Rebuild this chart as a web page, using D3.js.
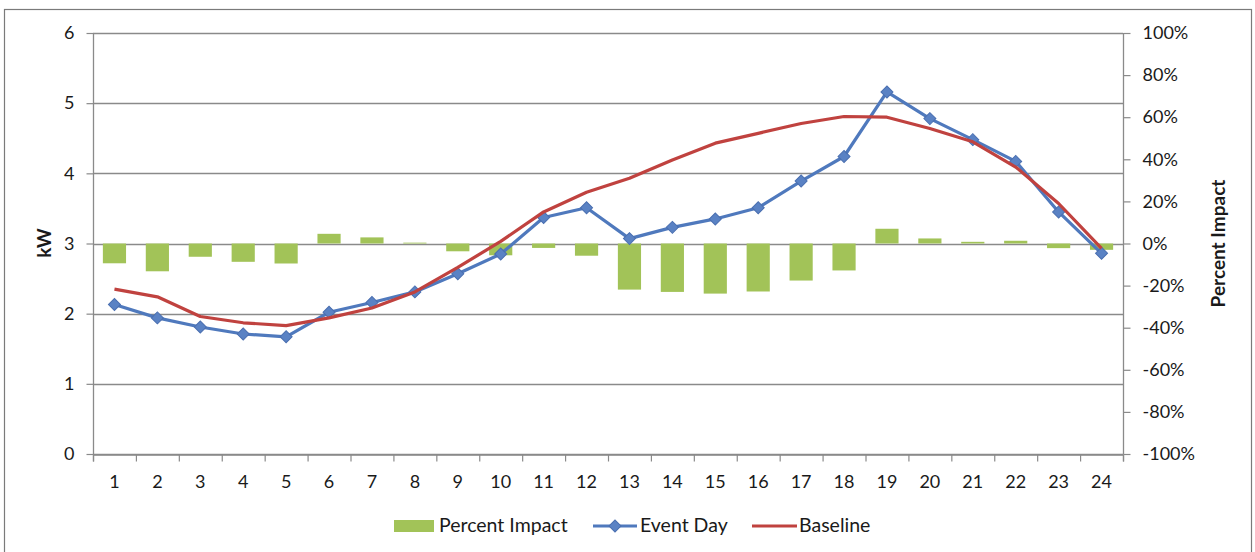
<!DOCTYPE html>
<html>
<head>
<meta charset="utf-8">
<script src="https://cdn.jsdelivr.net/npm/d3@7"></script>
<style>
  html, body { margin: 0; padding: 0; background: #fff; }
  svg { display: block; font-family: Lato, "Open Sans", sans-serif; }
</style>
</head>
<body>
<svg id="chart" width="1255" height="552"></svg>
<script>
const hours = ["1","2","3","4","5","6","7","8","9","10","11","12","13","14","15","16","17","18","19","20","21","22","23","24"];
const percentImpact = [-9.4,-13.2,-6.3,-8.7,-9.5,4.6,2.9,0.4,-3.7,-5.6,-2.1,-5.8,-21.9,-23.0,-23.8,-22.8,-17.6,-12.8,7.0,2.4,0.8,1.3,-2.2,-3.0];
const eventDay = [2.13,1.94,1.81,1.71,1.67,2.02,2.16,2.31,2.57,2.85,3.37,3.51,3.07,3.23,3.35,3.51,3.89,4.24,5.16,4.78,4.48,4.17,3.45,2.86];
const baseline = [2.35,2.24,1.96,1.87,1.83,1.94,2.08,2.31,2.66,3.03,3.45,3.73,3.93,4.19,4.43,4.57,4.71,4.81,4.80,4.64,4.45,4.09,3.57,2.93];
const kwTicks = [0,1,2,3,4,5,6];
const pctTicks = [-1,-0.8,-0.6,-0.4,-0.2,0,0.2,0.4,0.6,0.8,1];
const legendLabels = ["Percent Impact","Event Day","Baseline"];

const svg = d3.select("#chart");
const L = 93, R = 1123, T = 33, B = 454;
const gridColor = "#8a8a8a";
const green = "#a2c358", blue = "#4f79bd", red = "#c0423f";
const textColor = "#1a1a1a";

// outer border
svg.append("rect").attr("x",4.5).attr("y",9.5).attr("width",1247).attr("height",560)
  .attr("fill","none").attr("stroke","#7a7a7a").attr("stroke-width",1.2);

const x = d3.scaleBand().domain(hours).range([L, R]).padding(0);
const y = d3.scaleLinear().domain([0,6]).range([B, T]);
const yp = d3.scaleLinear().domain([-1,1]).range([B, T]);

// gridlines
svg.append("g").selectAll("line").data(kwTicks).join("line")
  .attr("x1", L).attr("x2", R)
  .attr("y1", d => Math.round(y(d))+0.5).attr("y2", d => Math.round(y(d))+0.5)
  .attr("stroke", gridColor).attr("stroke-width", 1.3);

// bars
const bw = x.bandwidth();
svg.append("g").selectAll("rect").data(percentImpact).join("rect")
  .attr("x", (d,i) => x(hours[i]) + bw*0.23)
  .attr("width", bw*0.54)
  .attr("y", d => yp(Math.max(0, d/100)))
  .attr("height", d => Math.abs(yp(d/100) - yp(0)))
  .attr("fill", green);

// left axis
const axL = svg.append("g").attr("transform", `translate(${L+0.5},0)`)
  .call(d3.axisLeft(y).tickValues(kwTicks).tickSize(7).tickPadding(12).tickFormat(d3.format("d")));
// right axis
const pctFmt = d => Math.round(d*100) + "%";
const axR = svg.append("g").attr("transform", `translate(${R+0.5},0)`)
  .call(d3.axisRight(yp).tickValues(pctTicks).tickSize(7).tickPadding(12).tickFormat(pctFmt));
// bottom axis with ticks between categories
const xb = d3.scaleLinear().domain([0,24]).range([L,R]);
const axB = svg.append("g").attr("transform", `translate(0,${B+0.5})`)
  .call(d3.axisBottom(xb).tickValues(d3.range(25)).tickSize(7).tickFormat(""));
svg.append("g").selectAll("text").data(hours).join("text")
  .attr("x", d => x(d) + bw/2).attr("y", 488)
  .attr("text-anchor","middle").attr("font-size", 18).attr("fill",textColor)
  .text(d => d);

[axL, axR, axB].forEach(a => {
  a.select(".domain").attr("stroke", gridColor).attr("stroke-width",1.3);
  a.selectAll(".tick line").attr("stroke", gridColor).attr("stroke-width",1.2);
  a.selectAll(".tick text").attr("font-size", 18).attr("fill",textColor).attr("font-family","Lato, sans-serif");
});
axL.select(".domain").attr("d", `M0,${T}V${B}`);
axR.select(".domain").attr("d", `M0,${T}V${B}`);

// axis titles
svg.append("text").attr("transform", `translate(51,243) rotate(-90)`)
  .attr("text-anchor","middle").attr("font-size",19).attr("font-weight","bold").attr("fill",textColor).text("kW");
svg.append("text").attr("transform", `translate(1225,243.5) rotate(-90)`)
  .attr("text-anchor","middle").attr("font-size",19).attr("font-weight","bold").attr("fill",textColor).text("Percent Impact");

// lines
const line = d3.line().x((d,i) => x(hours[i]) + bw/2).y(d => y(d));
svg.append("path").datum(eventDay).attr("d", line)
  .attr("fill","none").attr("stroke", blue).attr("stroke-width", 3.2).attr("stroke-linejoin","round");
const diamond = d3.symbol().type(d3.symbolSquare).size(72);
svg.append("g").selectAll("path").data(eventDay).join("path")
  .attr("transform", (d,i) => `translate(${x(hours[i]) + bw/2},${y(d)}) rotate(45)`)
  .attr("d", diamond).attr("fill", "#5a82c4").attr("stroke", "#4a6fb0").attr("stroke-width", 1);
svg.append("path").datum(baseline).attr("d", line)
  .attr("fill","none").attr("stroke", red).attr("stroke-width", 3.2).attr("stroke-linejoin","round");

// legend
const lg = svg.append("g");
lg.append("rect").attr("x",394).attr("y",520).attr("width",40).attr("height",12).attr("fill", green);
lg.append("text").attr("x",439).attr("y",532).attr("font-size",19.5).attr("fill",textColor).text(legendLabels[0]);
lg.append("line").attr("x1",593).attr("x2",637).attr("y1",526).attr("y2",526).attr("stroke",blue).attr("stroke-width",3.2);
lg.append("path").attr("transform","translate(615,526) rotate(45)").attr("d",diamond).attr("fill","#5a82c4").attr("stroke","#4a6fb0");
lg.append("text").attr("x",640).attr("y",532).attr("font-size",19.5).attr("fill",textColor).text(legendLabels[1]);
lg.append("line").attr("x1",752).attr("x2",797).attr("y1",526).attr("y2",526).attr("stroke",red).attr("stroke-width",3.2);
lg.append("text").attr("x",799).attr("y",532).attr("font-size",19.5).attr("fill",textColor).text(legendLabels[2]);
</script>
</body>
</html>
